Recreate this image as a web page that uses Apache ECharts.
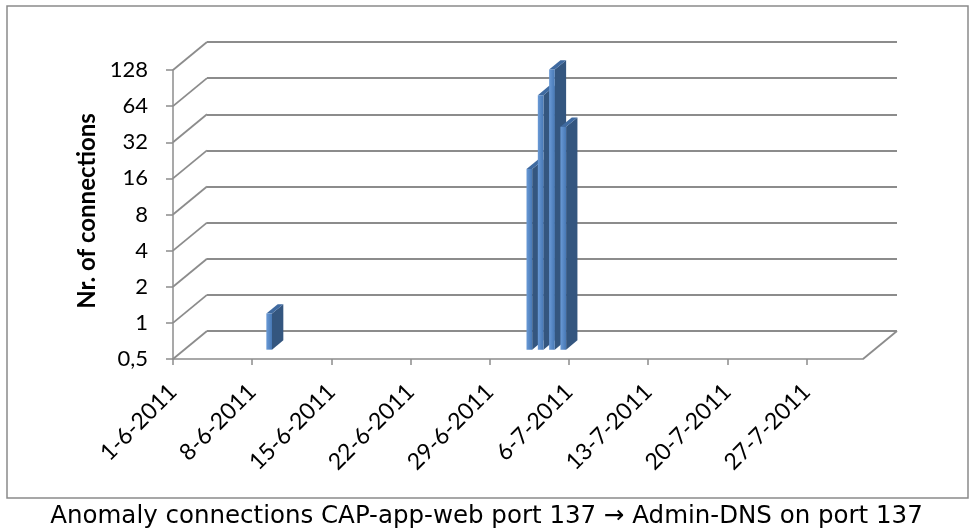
<!DOCTYPE html>
<html>
<head>
<meta charset="utf-8">
<script src="https://cdn.jsdelivr.net/npm/echarts@6/dist/echarts.min.js"></script>
<style>
  html, body { margin: 0; padding: 0; background: #fff; }
  #chart { width: 973px; height: 531px; }
</style>
</head>
<body>
<div id="chart"></div>
<script>
// x axis: weekly tick labels, axis runs up to axisEnd
var xTickLabels = ['1-6-2011', '8-6-2011', '15-6-2011', '22-6-2011', '29-6-2011',
                   '6-7-2011', '13-7-2011', '20-7-2011', '27-7-2011'];
var axisEnd = '1-8-2011';

var barDates = ['8-6-2011', '1-7-2011', '2-7-2011', '3-7-2011', '4-7-2011'];
var barValues = [1, 16, 66, 108, 36];

// y ticks (log base 2)
var yTicks = [0.5, 1, 2, 4, 8, 16, 32, 64, 128];

var caption = 'Anomaly connections CAP-app-web port 137 \u2192 Admin-DNS on port 137';

function dayIndex(s) {
	var p = s.split('-');
	var q = xTickLabels[0].split('-');
	return (Date.UTC(+p[2], +p[1] - 1, +p[0]) - Date.UTC(+q[2], +q[1] - 1, +q[0])) / 86400000;
}

var xMax = dayIndex(axisEnd);
var xTickValues = xTickLabels.map(dayIndex);

// 3d depth of the walls (px), bars take the middle third
var DX = 34, DY = -28;

var barData = [];
for (var i = 0; i < barDates.length; i++) {
	barData.push([dayIndex(barDates[i]) + 0.5, barValues[i]]);
}

var diagData = yTicks.map(function (v) { return [0, v]; });
diagData.push([xMax, yTicks[0]]);

var gridColor = '#8c8c8c';

var dom = document.getElementById('chart');
var myChart = echarts.init(dom);

var option = {
	backgroundColor: '#fff',
	animation: false,
	title: {
		text: caption,
		left: 'center',
		top: 504,
		padding: 0,
		textStyle: {
			fontFamily: 'DejaVu Sans',
			fontSize: 24.5,
			fontWeight: 'normal',
			color: '#000'
		}
	},
	graphic: [{
		type: 'rect',
		shape: { x: 7, y: 6, width: 961, height: 492 },
		style: { fill: 'none', stroke: '#8a8a8a', lineWidth: 1.5 },
		silent: true
	}],
	grid: [
		{ left: 173, top: 70, width: 690, height: 289 },
		{ left: 173 + DX, top: 70 + DY, width: 690, height: 289 }
	],
	xAxis: [
		{
			type: 'value',
			gridIndex: 0,
			min: 0,
			max: xMax,
			splitLine: { show: false },
			axisLine: { lineStyle: { color: gridColor, width: 1.5 } },
			axisTick: {
				customValues: xTickValues,
				length: 6,
				lineStyle: { color: gridColor, width: 1.5 }
			},
			axisLabel: {
				customValues: xTickValues,
				rotate: 45,
				margin: 29,
				fontFamily: 'Lato',
				fontSize: 23,
				color: '#000',
				formatter: function (v) {
					var k = xTickValues.indexOf(v);
					return k >= 0 ? xTickLabels[k] : '';
				}
			}
		},
		{
			type: 'value',
			gridIndex: 1,
			min: 0,
			max: xMax,
			show: false
		}
	],
	yAxis: [
		{
			type: 'log',
			logBase: 2,
			gridIndex: 0,
			min: 0.5,
			max: 128,
			interval: 1,
			name: 'Nr. of connections',
			nameLocation: 'middle',
			nameGap: 72,
			nameTextStyle: {
				fontFamily: 'Lato',
				fontWeight: 'bold',
				fontSize: 24,
				color: '#000',
				padding: [0, 0, 0, 7]
			},
			splitLine: { show: false },
			axisLine: { show: true, lineStyle: { color: gridColor, width: 1.5 } },
			axisTick: { show: true, length: 7, lineStyle: { color: gridColor, width: 1.5 } },
			axisLabel: {
				margin: 25,
				fontFamily: 'Lato',
				fontSize: 22,
				color: '#000',
				formatter: function (v) { return String(v).replace('.', ','); }
			}
		},
		{
			type: 'log',
			logBase: 2,
			gridIndex: 1,
			min: 0.5,
			max: 128,
			interval: 1,
			axisLine: { show: false },
			axisTick: { show: false },
			axisLabel: { show: false },
			splitLine: { show: true, lineStyle: { color: gridColor, width: 1.8 } }
		}
	],
	series: [
		{
			// diagonals from the front axis to the back wall
			type: 'custom',
			xAxisIndex: 0,
			yAxisIndex: 0,
			silent: true,
			z: 1,
			data: diagData,
			renderItem: function (params, api) {
				var p = api.coord([api.value(0), api.value(1)]);
				return {
					type: 'line',
					shape: { x1: p[0], y1: p[1], x2: p[0] + DX, y2: p[1] + DY },
					style: { stroke: gridColor, lineWidth: 1.8 }
				};
			}
		},
		{
			// 3d columns
			type: 'custom',
			xAxisIndex: 0,
			yAxisIndex: 0,
			z: 5,
			data: barData,
			renderItem: function (params, api) {
				var top = api.coord([api.value(0), api.value(1)]);
				var base = api.coord([api.value(0), yTicks[0]]);
				var w = api.size([0.5, 0])[0];
				var dx = DX / 3, dy = DY / 3;
				var x0 = top[0] + dx - w / 2, x1 = top[0] + dx + w / 2;
				var yt = top[1] + dy, yb = base[1] + dy;
				return {
					type: 'group',
					children: [
						{
							type: 'polygon',
							shape: { points: [[x1, yt], [x1 + dx, yt + dy], [x1 + dx, yb + dy], [x1, yb]] },
							style: { fill: '#34567f' }
						},
						{
							type: 'polygon',
							shape: { points: [[x0, yt], [x0 + dx, yt + dy], [x1 + dx, yt + dy], [x1, yt]] },
							style: { fill: '#3f6aa0' }
						},
						{
							type: 'rect',
							shape: { x: x0, y: yt, width: x1 - x0, height: yb - yt },
							style: {
								fill: new echarts.graphic.LinearGradient(0, 0, 1, 0, [
									{ offset: 0, color: '#6a9ad6' },
									{ offset: 1, color: '#4778b5' }
								])
							}
						}
					]
				};
			}
		}
	]
};

if (option && typeof option === "object") {
	myChart.setOption(option, true);
}
</script>
</body>
</html>
